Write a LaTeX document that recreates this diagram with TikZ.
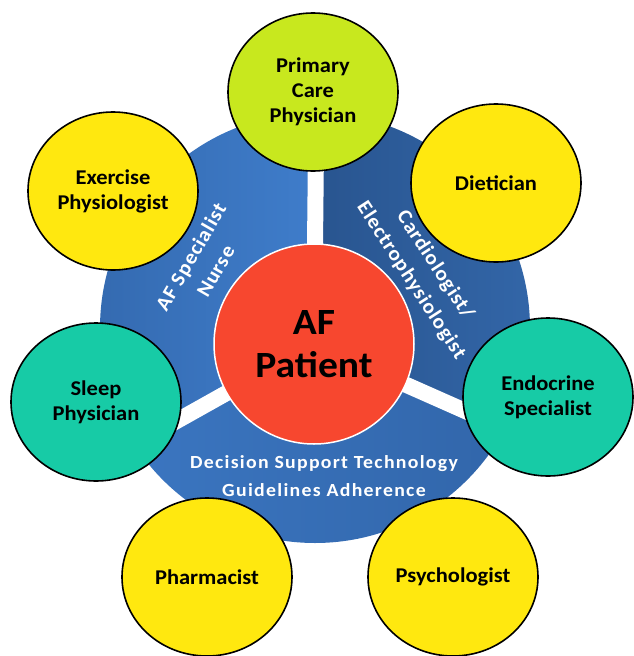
\documentclass[tikz,border=0pt]{standalone}
\usepackage{fontspec}
\setmainfont{Carlito}
\newfontfamily\figfont[FakeStretch=1.07]{Carlito}
\newfontfamily\ringfont[FakeStretch=1.05, LetterSpace=4]{Carlito}
\newfontfamily\dstfont[FakeStretch=1.07, LetterSpace=7]{Carlito}
\usetikzlibrary{shapes.geometric}
\definecolor{bluelight}{HTML}{3F7DCB}
\definecolor{bluedark}{HTML}{2D5E9F}
\definecolor{redc}{HTML}{F7472F}
\definecolor{yellowc}{HTML}{FFE80F}
\definecolor{limec}{HTML}{C8E81E}
\definecolor{tealc}{HTML}{17CBA6}
\tikzset{
  member/.style={ellipse, draw=black, line width=1.6pt, minimum width=170pt, minimum height=158pt,
    inner sep=0pt, align=center, font=\figfont\bfseries\fontsize{21}{25}\selectfont, text=black},
  spoke/.style={white, line width=16pt},
  ringtext/.style={white, align=center, font=\ringfont\bfseries\fontsize{20.5}{28.5}\selectfont},
}
\begin{document}
\begin{tikzpicture}[x=1pt,y=-1pt]
\useasboundingbox (0,0) rectangle (633,656);
\coordinate (O) at (315,328);
\coordinate (R) at (314,344);
\coordinate (TopEnd) at (318,-50);
\coordinate (LeftEnd) at (-50,548);
\coordinate (RightEnd) at (700,515);
% blue ring sectors
\begin{scope}
  \clip (O) circle (215);
  \shade[left color=bluedark, right color=bluelight] (R) -- (TopEnd) -- (-50,-50) -- (LeftEnd) -- cycle;
  \shade[left color=bluedark!90!black, right color=bluelight!92!black] (R) -- (TopEnd) -- (700,-50) -- (RightEnd) -- cycle;
  \shade[left color=bluelight, right color=bluedark] (R) -- (LeftEnd) -- (-50,700) -- (700,700) -- (RightEnd) -- cycle;
  \draw[spoke] (R) -- (TopEnd);
  \draw[spoke] (R) -- (LeftEnd);
  \draw[spoke] (R) -- (RightEnd);
\end{scope}
% centre
\node[circle, fill=redc, draw=white, line width=1.5pt, minimum size=200pt, inner sep=0pt,
  align=center, font=\figfont\bfseries\fontsize{37}{43}\selectfont] (patient) at (R) {AF\\Patient};
% ring labels
\node[ringtext, rotate=60] (nurse) at (203,264) {AF Specialist\\Nurse};
\node[ringtext, rotate=-57] (cardio) at (423,273) {Cardiologist/\\Electrophysiologist};
\node[white, align=center, font=\dstfont\bfseries\fontsize{18.5}{28}\selectfont] (dst) at (324,476) {Decision Support Technology\\Guidelines Adherence};
% members
\node[member, fill=limec] (pcp) at (313,92) {Primary\\Care\\Physician};
\node[member, fill=yellowc] (exer) at (113,191) {Exercise\\Physiologist};
\node[member, fill=yellowc] (diet) at (496,183) {Dietician};
\node[member, fill=tealc] (sleep) at (96,402) {Sleep\\Physician};
\node[member, fill=tealc] (endo) at (548,397) {Endocrine\\Specialist};
\node[member, fill=yellowc] (pharm) at (207,577) {Pharmacist};
\node[member, fill=yellowc] (psych) at (453,577) {Psychologist};
\end{tikzpicture}
\end{document}
